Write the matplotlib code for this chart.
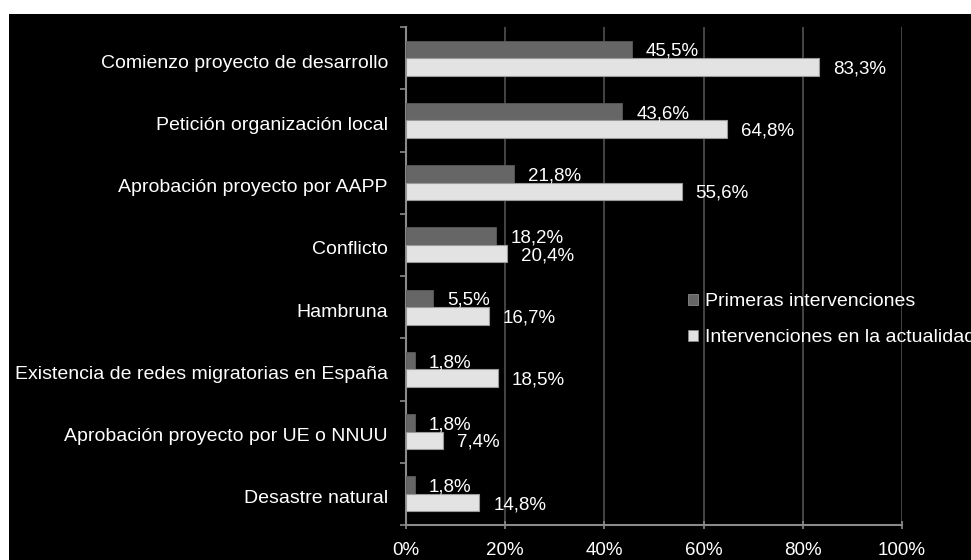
import matplotlib
matplotlib.use("Agg")
import matplotlib.pyplot as plt
import matplotlib.transforms as mtransforms
from matplotlib.patches import Rectangle
from matplotlib.ticker import FixedLocator, PercentFormatter

plt.rcParams['font.family'] = ['Liberation Sans', 'DejaVu Sans']

categories = [
    "Comienzo proyecto de desarrollo",
    "Petición organización local",
    "Aprobación proyecto por AAPP",
    "Conflicto",
    "Hambruna",
    "Existencia de redes migratorias en España",
    "Aprobación proyecto por UE o NNUU",
    "Desastre natural",
]
primeras = [45.5, 43.6, 21.8, 18.2, 5.5, 1.8, 1.8, 1.8]
actualidad = [83.3, 64.8, 55.6, 20.4, 16.7, 18.5, 7.4, 14.8]
series_names = ["Primeras intervenciones", "Intervenciones en la actualidad"]
x_ticks = [0, 20, 40, 60, 80, 100]

W, H = 971, 560
fig = plt.figure(figsize=(W / 100, H / 100), dpi=100, facecolor="white")

# black panel behind the chart
fig.patches.append(Rectangle((9 / W, 0), 1, (H - 14) / H, transform=fig.transFigure,
                             facecolor="black", edgecolor="none", zorder=-10))

ax = fig.add_axes([406 / W, 35 / H, (902 - 406) / W, (525 - 27) / H])
ax.set_zorder(1)
ax.set_facecolor("black")

dark = "#666666"
light = "#e3e3e3"
bh = 0.28
y = list(range(len(categories)))

ax.barh([v - bh / 2 for v in y], primeras, height=bh, color=dark, edgecolor="#5a5a5a",
        linewidth=0.6, zorder=3)
ax.barh([v + bh / 2 for v in y], actualidad, height=bh, color=light, edgecolor="#9a9a9a",
        linewidth=0.8, zorder=3)

fs = 14
for i, (a, b) in enumerate(zip(primeras, actualidad)):
    ax.annotate(f"{a:.1f}%".replace(".", ","), (a, i - bh / 2), xytext=(10, -1.5),
                textcoords="offset points", va="center", ha="left", color="white",
                fontsize=13.5, zorder=4)
    ax.annotate(f"{b:.1f}%".replace(".", ","), (b, i + bh / 2), xytext=(10, -1.5),
                textcoords="offset points", va="center", ha="left", color="white",
                fontsize=13.5, zorder=4)

ax.set_xlim(0, 100)
ax.set_ylim(len(categories) - 0.5, -0.5)

ax.xaxis.set_major_locator(FixedLocator(x_ticks))
ax.xaxis.set_major_formatter(PercentFormatter(decimals=0))
ax.set_yticks(y)
ax.set_yticklabels(categories)
ax.yaxis.set_minor_locator(FixedLocator([v + 0.5 for v in range(-1, len(categories))]))

ax.grid(axis="x", color="#505050", linewidth=1.2, zorder=1)
for s in ["top", "right"]:
    ax.spines[s].set_visible(False)
for s in ["left", "bottom"]:
    ax.spines[s].set_color("#8a8a8a")
    ax.spines[s].set_linewidth(1.5)

ax.tick_params(axis="y", which="major", length=0, pad=13, labelsize=fs, labelcolor="white")
ax.tick_params(axis="y", which="minor", length=4, width=1.2, color="#8a8a8a", direction="out")
ax.tick_params(axis="x", which="major", length=6, width=1.2, color="#8a8a8a", direction="inout",
               pad=9, labelsize=13.5, labelcolor="white")

# nudge category labels slightly downward
shift = mtransforms.ScaledTranslation(0, -3 / 100, fig.dpi_scale_trans)
for lbl in ax.get_yticklabels():
    lbl.set_transform(lbl.get_transform() + shift)

handles = [Rectangle((0, 0), 1, 1, facecolor=dark, edgecolor="#888888", linewidth=0.6),
           Rectangle((0, 0), 1, 1, facecolor=light, edgecolor="#888888", linewidth=0.6)]
leg = fig.legend(handles, series_names, loc="upper left",
                 bbox_to_anchor=(688 / W, 1 - 293 / H), frameon=False, fontsize=fs,
                 handlelength=0.5, handleheight=0.5, handletextpad=0.35,
                 labelspacing=1.0, borderpad=0, borderaxespad=0)
leg.set_zorder(5)
for t in leg.get_texts():
    t.set_color("white")

fig.savefig("out.png", dpi=100, facecolor="white")
